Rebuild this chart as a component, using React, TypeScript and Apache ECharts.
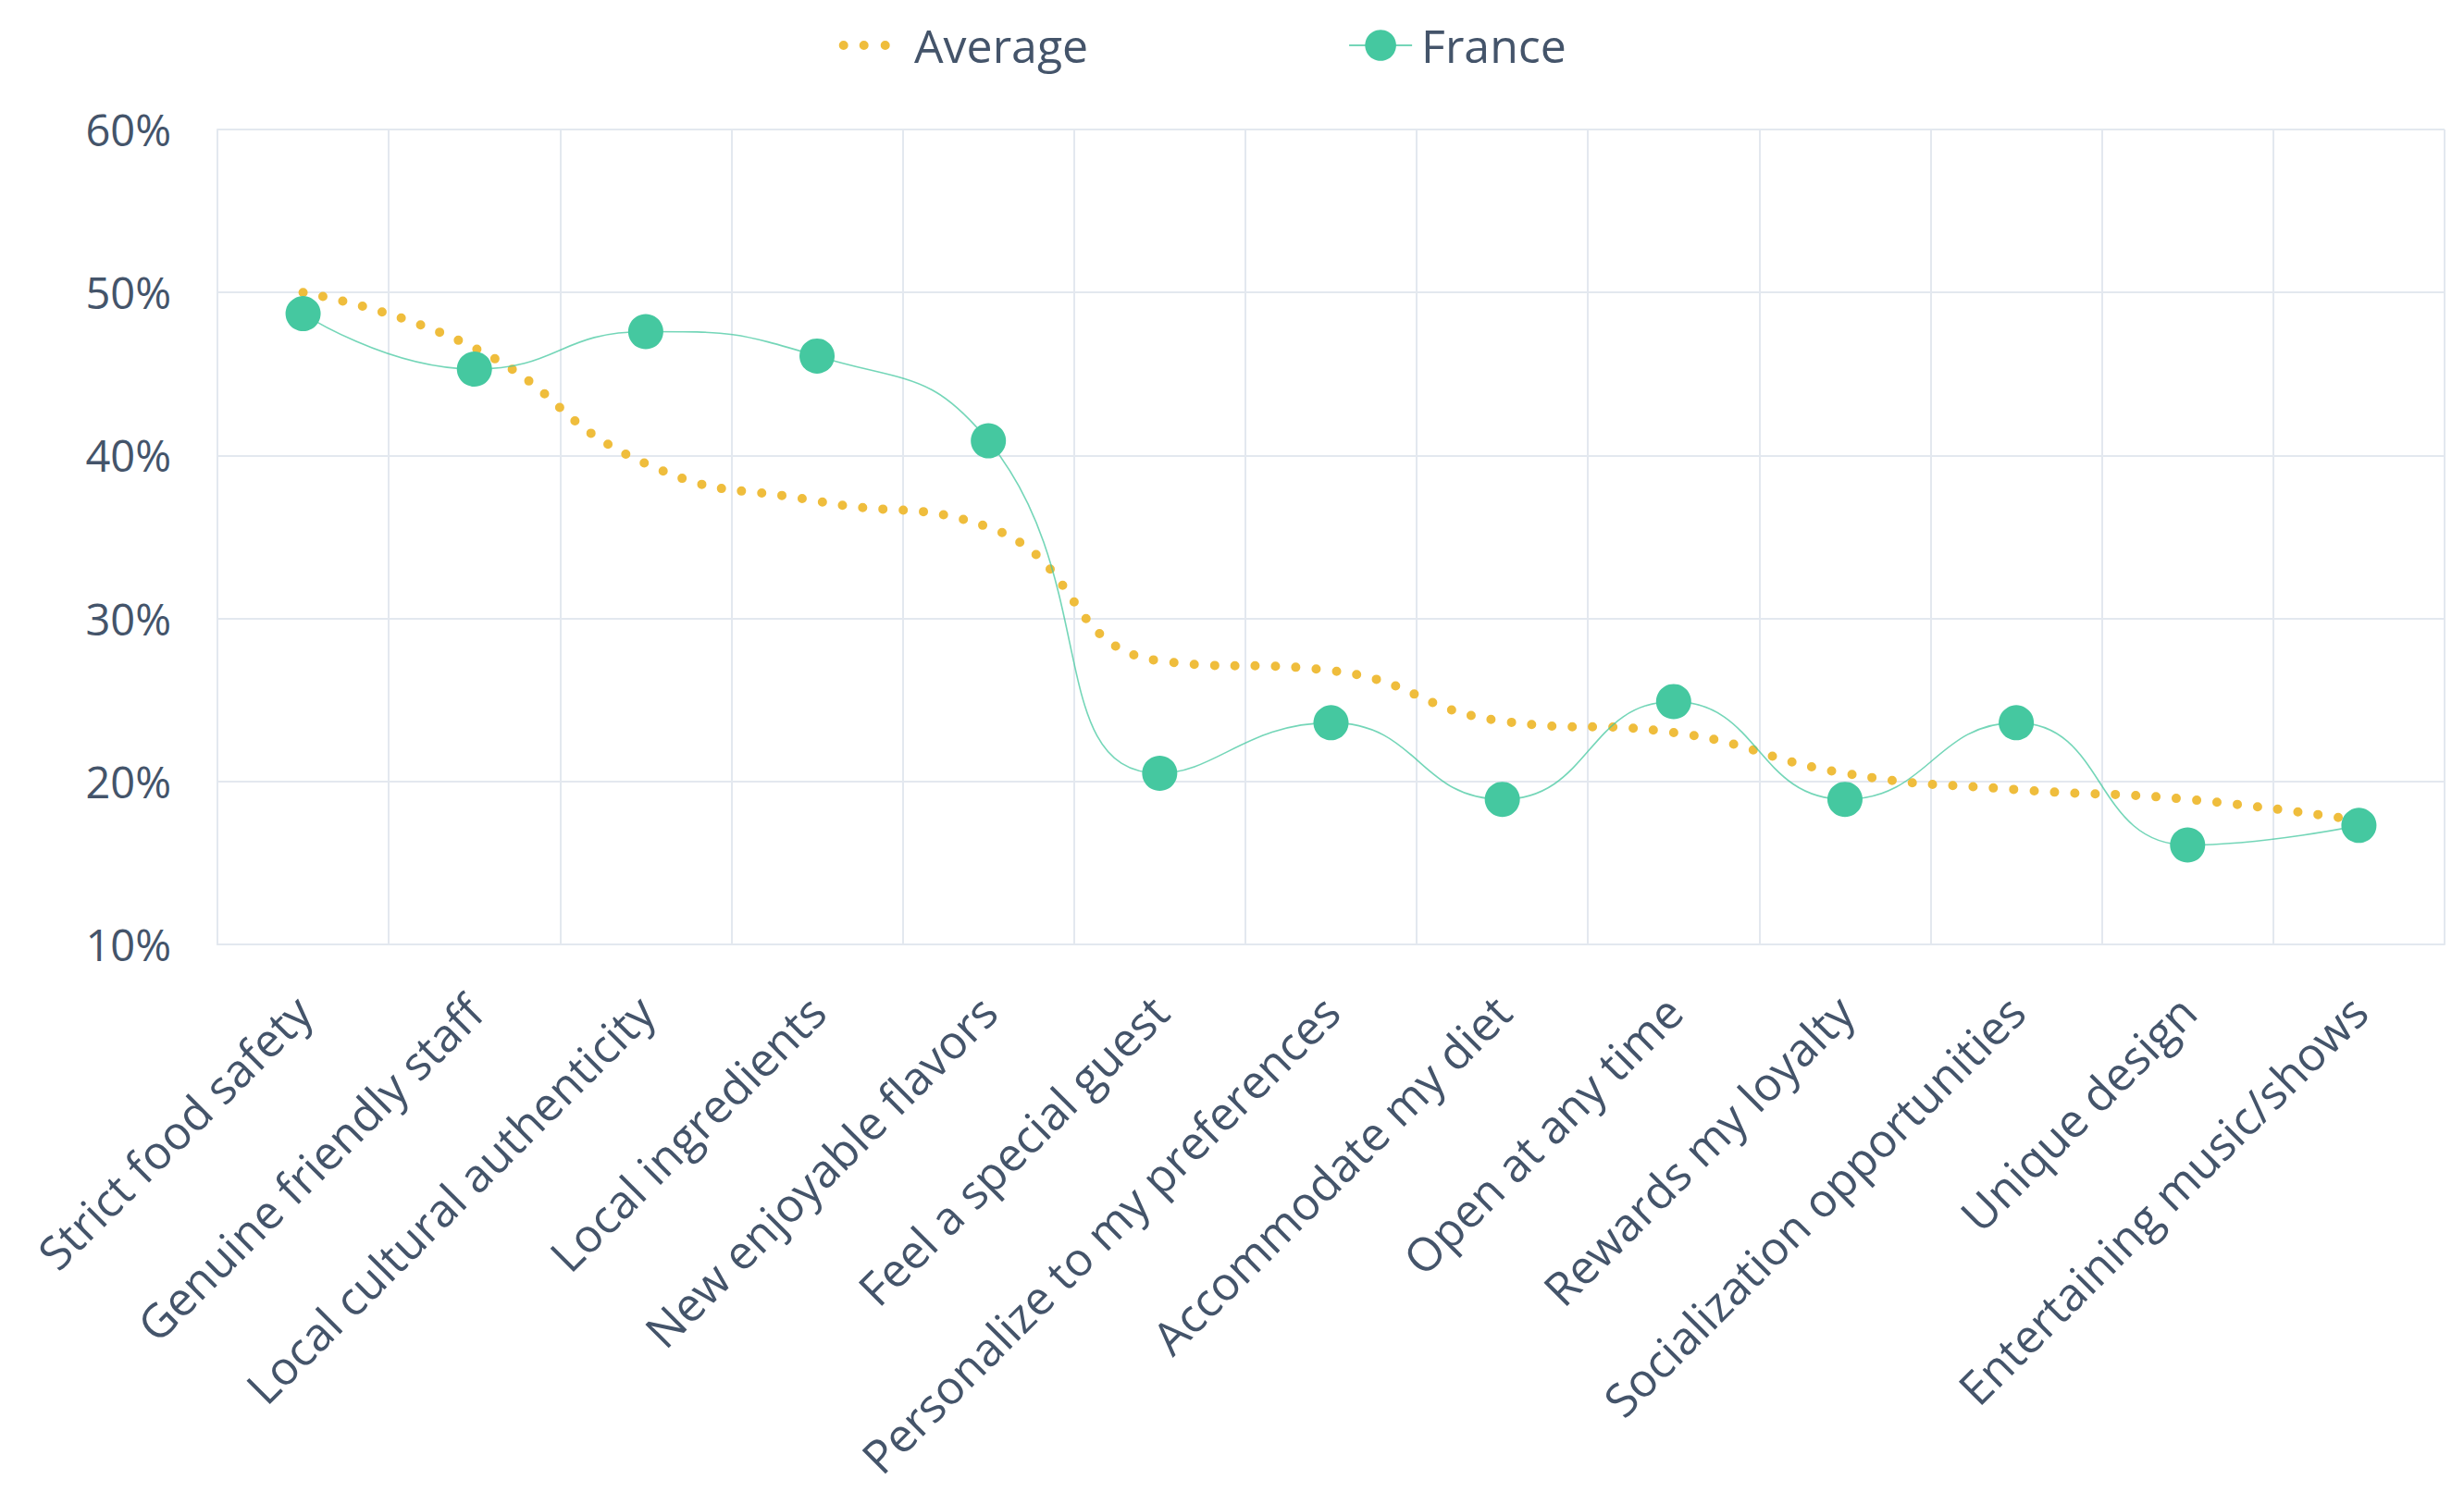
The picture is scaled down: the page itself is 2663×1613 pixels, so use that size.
import React, { useEffect, useRef } from "react";
import * as echarts from "echarts";

const categories = [
  "Strict food safety",
  "Genuine friendly staff",
  "Local cultural authenticity",
  "Local ingredients",
  "New enjoyable flavors",
  "Feel a special guest",
  "Personalize to my preferences",
  "Accommodate my diet",
  "Open at any time",
  "Rewards my loyalty",
  "Socialization opportunities",
  "Unique design",
  "Entertaining music/shows",
];

const averageValues = [50.0, 46.6, 39.5, 37.2, 35.6, 27.4, 26.8, 23.7, 23.0, 20.5, 19.5, 18.9, 17.6];
const franceValues = [48.7, 45.3, 47.6, 46.1, 40.9, 20.5, 23.6, 18.9, 24.9, 18.9, 23.6, 16.1, 17.3];

const yTicks = { min: 10, max: 60, interval: 10 };

const TEXT = "#44546a";
const GRID = "#e3e8ef";
const YELLOW = "#efbd3c";
const GREEN = "#45c8a0";
const FONT = "'Open Sans', 'Noto Sans', sans-serif";

function dot(cx: number) {
  return `M${cx - 5},5 a5,5 0 1,0 10,0 a5,5 0 1,0 -10,0 Z `;
}
const dottedIcon =
  "path://M0,5 L0.01,5 L0,5 Z " + dot(9.7) + dot(31.7) + dot(54.7) + "M67.99,5 L68,5 L67.99,5 Z";

export default function App() {
  const ref = useRef<HTMLDivElement>(null);
  useEffect(() => {
    if (!ref.current) return;
    const chart = echarts.init(ref.current, undefined, { renderer: "svg" });
    chart.setOption({
      animation: false,
      backgroundColor: "#ffffff",
      textStyle: { fontFamily: FONT },
      legend: {
        left: 897,
        top: 19,
        itemWidth: 68,
        itemHeight: 42,
        itemGap: 281,
        textStyle: { color: TEXT, fontSize: 50, fontFamily: FONT },
        data: [
          {
            name: "Average",
            icon: dottedIcon,
            itemStyle: { color: YELLOW, borderWidth: 0 },
            textStyle: { color: TEXT, fontSize: 50, fontFamily: FONT, padding: [0, 0, 0, 13] },
          },
          {
            name: "France",
            textStyle: { color: TEXT, fontSize: 50, fontFamily: FONT, padding: [0, 0, 0, 5] },
          },
        ],
      },
      grid: { left: 235, right: 21, top: 140, bottom: 592, containLabel: false },
      xAxis: {
        type: "category",
        data: categories,
        boundaryGap: true,
        axisLine: { show: true, lineStyle: { color: GRID, width: 2 } },
        axisTick: { show: false },
        splitLine: { show: true, lineStyle: { color: GRID, width: 2 } },
        axisLabel: {
          interval: 0,
          rotate: 45,
          margin: 64,
          color: TEXT,
          fontSize: 50,
          fontFamily: FONT,
        },
      },
      yAxis: {
        type: "value",
        min: yTicks.min,
        max: yTicks.max,
        interval: yTicks.interval,
        axisLine: { show: true, lineStyle: { color: GRID, width: 2 } },
        axisTick: { show: false },
        splitLine: { show: true, lineStyle: { color: GRID, width: 2 } },
        axisLabel: {
          formatter: "{value}%",
          margin: 50,
          color: TEXT,
          fontSize: 47,
          fontFamily: FONT,
        },
      },
      series: [
        {
          name: "Average",
          type: "line",
          data: averageValues,
          smooth: true,
          showSymbol: false,
          symbol: "none",
          color: YELLOW,
          lineStyle: { color: YELLOW, width: 10, type: [0, 22], cap: "round" },
          z: 2,
        },
        {
          name: "France",
          type: "line",
          data: franceValues,
          smooth: true,
          symbol: "circle",
          symbolSize: 38,
          color: GREEN,
          itemStyle: { color: GREEN },
          lineStyle: { color: GREEN, width: 1.6, opacity: 0.75 },
          z: 3,
        },
      ],
    });
    return () => chart.dispose();
  }, []);
  return (
    <div
      ref={ref}
      style={{ position: "fixed", left: 0, top: 0, width: 2663, height: 1613, background: "#fff" }}
    />
  );
}
